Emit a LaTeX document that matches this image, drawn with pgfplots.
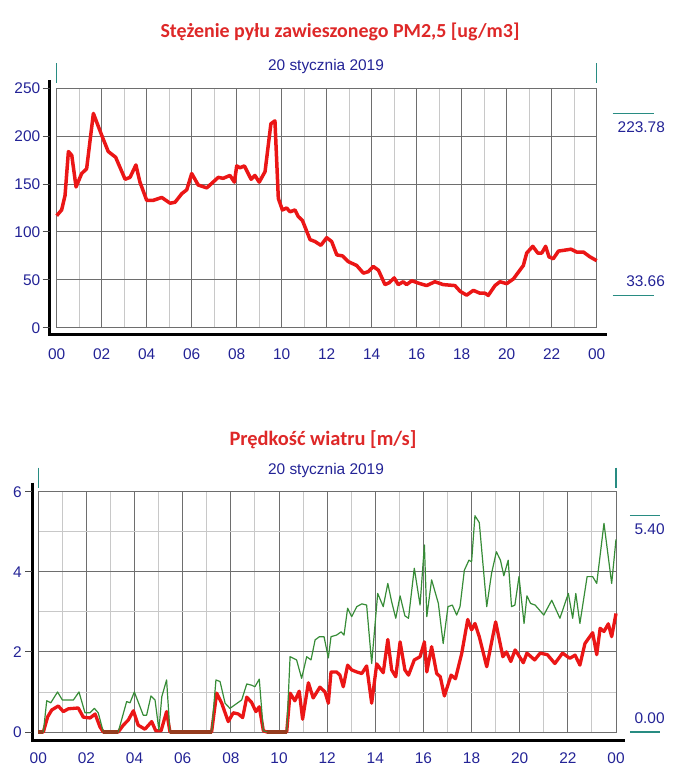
\documentclass[border=0pt]{standalone}
\usepackage{fontspec}
\setmainfont{Liberation Sans}
\newfontfamily\titlefont{Carlito}
\usepackage{pgfplots}
\pgfplotsset{compat=1.18}
\definecolor{lblue}{RGB}{35,35,150}
\definecolor{tred}{RGB}{222,40,40}
\definecolor{lred}{RGB}{235,22,22}
\definecolor{lgreen}{RGB}{55,140,55}
\definecolor{lbrown}{RGB}{150,60,30}
\definecolor{gdark}{RGB}{110,110,110}
\definecolor{glight}{RGB}{200,200,200}
\definecolor{mteal}{RGB}{40,140,130}
\pgfplotsset{
 mystyle/.style={
  scale only axis, anchor=south west,
  xmin=0,xmax=24,
  xtick={0,2,...,24}, minor xtick={1,3,...,23},
  xticklabels={00,02,04,06,08,10,12,14,16,18,20,22,00},
  grid=both,
  major grid style={draw=gdark, line width=0.9bp},
  minor grid style={draw=glight, line width=0.9bp},
  axis line style={draw=gdark, line width=0.9bp},
  major tick length=0pt, minor tick length=0pt,
  tick label style={font=\fontsize{15.5}{17}\selectfont, text=lblue},
  /pgf/number format/assume math mode=true,
  yticklabel style={xshift=-13bp},
  xticklabel style={yshift=-17bp, text height=11bp, text depth=0pt},
  clip=false,
 }
}
\begin{document}
\begin{tikzpicture}
\useasboundingbox (0,0) rectangle (680bp,-780bp);
\node[font=\titlefont\bfseries\fontsize{20}{22}\selectfont, text=tred] at (340bp,-32bp) {Stężenie pyłu zawieszonego PM2,5 [ug/m3]};
\node[font=\fontsize{15.5}{17}\selectfont, text=lblue] at (326bp,-67bp) {20 stycznia 2019};
\begin{axis}[mystyle, at={(56.7bp,-327.7bp)}, width=540bp, height=239.4bp,
  ymin=0, ymax=250, ytick={0,50,...,250}]
\addplot[lred, line width=3.5bp, line join=round] coordinates {
(0,117) (0.22,123) (0.37,138) (0.52,184) (0.67,180) (0.86,147) (1.11,161) (1.33,166)
(1.63,223.8) (2.0,201) (2.29,184) (2.62,178) (3.04,155) (3.26,157) (3.52,170) (3.7,152)
(4.0,133) (4.29,133) (4.67,136) (5.04,130) (5.26,131) (5.56,140) (5.78,144) (6.0,161)
(6.29,149) (6.67,146) (7.18,157) (7.4,156) (7.7,159) (7.9,152) (8.0,169) (8.15,167)
(8.34,169) (8.64,155) (8.81,159) (9.0,152) (9.26,163) (9.52,213) (9.7,216) (9.85,135)
(10.03,123) (10.22,125) (10.37,121) (10.59,123) (10.74,116) (10.92,112) (11.26,92) (11.48,90)
(11.74,86) (12.0,94) (12.22,90) (12.45,76) (12.7,75) (12.96,69) (13.33,65) (13.63,57)
(13.85,58.5) (14.07,64) (14.3,60) (14.59,45) (14.78,47) (15.0,52) (15.18,45) (15.4,48)
(15.55,45) (15.78,49) (16.15,46) (16.44,44) (16.81,48) (17.18,45) (17.7,44) (17.93,38)
(18.22,34) (18.52,39) (18.81,36) (19.04,36) (19.18,33.7) (19.48,44) (19.7,48) (20.0,46)
(20.3,51) (20.52,58) (20.74,65) (20.89,78) (21.16,85) (21.38,78) (21.56,78) (21.73,85)
(21.88,74) (22.07,72) (22.3,80) (22.59,81) (22.86,82) (23.11,79) (23.41,79) (23.7,74) (24.0,70)
};
\draw[line width=3bp] ([xshift=-7bp,yshift=8bp]rel axis cs:0,1) -- ([xshift=-7bp,yshift=-7bp]rel axis cs:0,0) -- ([xshift=10bp,yshift=-7bp]rel axis cs:1,0);
\pgfplotsinvokeforeach{0,50,100,150,200,250}{\draw[line width=1bp, black!70] ([xshift=-14bp]axis cs:0,#1) -- ([xshift=-7bp]axis cs:0,#1);}
\draw[mteal, line width=1.2bp] ([yshift=25bp]rel axis cs:0,1) -- ([yshift=5bp]rel axis cs:0,1);
\draw[mteal, line width=1.2bp] ([yshift=25bp]rel axis cs:1,1) -- ([yshift=5bp]rel axis cs:1,1);
\draw[mteal, line width=1.2bp] (axis cs:24.71,223.78) -- (axis cs:26.55,223.78);
\node[anchor=east, font=\fontsize{15.5}{17}\selectfont, text=lblue, inner sep=0pt] at ([yshift=-13.4bp]axis cs:27.04,223.78) {223.78};
\draw[mteal, line width=1.2bp] (axis cs:24.71,33.66) -- (axis cs:26.55,33.66);
\node[anchor=east, font=\fontsize{15.5}{17}\selectfont, text=lblue, inner sep=0pt] at ([yshift=14bp]axis cs:27.04,33.66) {33.66};
\end{axis}
\node[font=\titlefont\bfseries\fontsize{20.5}{22}\selectfont, text=tred] at (323bp,-440bp) {Prędkość wiatru [m/s]};
\node[font=\fontsize{15.5}{17}\selectfont, text=lblue] at (326bp,-471bp) {20 stycznia 2019};
\begin{axis}[mystyle, at={(38.3bp,-732bp)}, width=577.7bp, height=240.3bp,
  ymin=0, ymax=6, ytick={0,2,4,6}, minor ytick={1,3,5}]
\addplot[lred, line width=3.3bp, line join=round] coordinates {
(0,0) (0.21,0) (0.39,0.38) (0.56,0.55) (0.83,0.65) (1.04,0.51) (1.25,0.58) (1.66,0.6)
(1.87,0.37) (2.15,0.35) (2.36,0.45) (2.56,0.13) (2.7,0) (3.32,0) (3.53,0.17) (3.74,0.3)
(3.95,0.53) (4.15,0.17) (4.43,0.07) (4.71,0.26) (4.88,0.03) (5.1,0.03) (5.33,0.51) (5.47,0)
(7.2,0) (7.41,0.97) (7.62,0.72) (7.89,0.26) (8.1,0.48) (8.31,0.45) (8.49,0.36) (8.66,0.87)
(8.86,0.74) (9.04,0.51) (9.18,0.63) (9.35,0.03) (9.5,0) (10.32,0) (10.46,0.97) (10.66,0.78)
(10.84,1.02) (10.98,0.32) (11.22,1.23) (11.42,0.85) (11.7,1.12) (11.91,1.0) (12.05,0.72) (12.16,1.5)
(12.39,1.5) (12.53,1.42) (12.67,1.13) (12.85,1.67) (13.02,1.55) (13.23,1.5) (13.44,1.46) (13.64,1.65)
(13.85,0.72) (14.06,1.7) (14.33,1.48) (14.52,2.31) (14.68,1.55) (14.85,1.38) (15.03,2.25) (15.23,1.55)
(15.38,1.42) (15.62,1.8) (15.86,1.88) (16.04,2.25) (16.14,1.5) (16.34,2.13) (16.55,1.46) (16.7,1.38)
(16.87,0.9) (17.15,1.42) (17.33,1.33) (17.59,1.96) (17.84,2.81) (18.0,2.55) (18.14,2.71) (18.32,2.38)
(18.63,1.63) (19.0,2.75) (19.3,1.88) (19.45,2.0) (19.63,1.76) (19.81,2.05) (20.15,1.73) (20.3,1.97)
(20.62,1.8) (20.85,1.97) (21.15,1.93) (21.46,1.71) (21.78,1.97) (22.08,1.84) (22.3,1.92) (22.5,1.67)
(22.71,2.21) (23.03,2.48) (23.2,1.93) (23.34,2.59) (23.5,2.51) (23.68,2.7) (23.82,2.38) (24,2.96)
};
\addplot[lgreen, line width=1.2bp, line join=round] coordinates {
(0,0) (0.21,0) (0.35,0.78) (0.52,0.73) (0.8,1.0) (1.0,0.8) (1.46,0.8) (1.69,1.0)
(1.94,0.48) (2.15,0.48) (2.33,0.59) (2.49,0.48) (2.7,0) (3.32,0) (3.67,0.76) (3.81,0.73)
(3.99,1.0) (4.36,0.42) (4.5,0.42) (4.68,0.9) (4.85,0.8) (5.01,0.05) (5.13,0.88) (5.33,1.3)
(5.47,0) (7.2,0) (7.38,1.3) (7.55,1.26) (7.76,0.72) (7.96,0.59) (8.45,0.8) (8.66,1.2)
(8.86,1.17) (9.0,1.13) (9.18,1.32) (9.35,0.03) (9.5,0) (10.32,0) (10.46,1.88) (10.73,1.8)
(10.94,1.34) (11.15,1.88) (11.33,1.8) (11.5,2.3) (11.68,2.38) (11.87,2.38) (12.05,1.85) (12.16,2.38)
(12.39,2.42) (12.58,2.5) (12.7,2.42) (12.85,3.09) (13.02,2.88) (13.23,3.13) (13.44,3.2) (13.64,3.17)
(13.85,1.71) (14.1,3.46) (14.33,3.13) (14.52,3.71) (14.68,3.25) (14.85,2.84) (15.03,3.4) (15.23,2.9)
(15.38,2.84) (15.62,4.09) (15.86,3.17) (16.04,4.67) (16.14,2.88) (16.34,3.8) (16.62,3.21) (16.82,2.21)
(17.02,3.13) (17.2,3.17) (17.38,2.92) (17.52,3.13) (17.7,4.04) (17.89,4.29) (18.0,4.25) (18.14,5.4)
(18.32,5.23) (18.63,3.13) (18.83,3.96) (19.03,4.5) (19.2,4.29) (19.34,3.9) (19.52,4.29) (19.66,3.13)
(19.8,3.17) (19.97,3.88) (20.18,2.71) (20.3,3.4) (20.45,3.21) (20.64,3.17) (21.0,2.92) (21.33,3.29)
(21.67,2.84) (22.02,3.46) (22.2,2.84) (22.33,3.46) (22.5,2.71) (22.8,3.88) (23.03,3.88) (23.2,3.71)
(23.5,5.21) (23.82,3.71) (24,4.81)
};
\addplot[lbrown, line width=3.3bp] coordinates {(0,0) (0.21,0)};
\addplot[lbrown, line width=3.3bp] coordinates {(2.7,0) (3.32,0)};
\addplot[lbrown, line width=3.3bp] coordinates {(5.47,0) (7.2,0)};
\addplot[lbrown, line width=3.3bp] coordinates {(9.5,0) (10.32,0)};
\draw[line width=3bp] ([xshift=-6bp,yshift=9bp]rel axis cs:0,1) -- ([xshift=-6bp,yshift=-8bp]rel axis cs:0,0) -- ([xshift=9bp,yshift=-8bp]rel axis cs:1,0);
\pgfplotsinvokeforeach{0,2,4,6}{\draw[line width=1bp, black!70] ([xshift=-13bp]axis cs:0,#1) -- ([xshift=-6bp]axis cs:0,#1);}
\draw[mteal, line width=1.2bp] ([yshift=24bp]rel axis cs:0,1) -- ([yshift=4bp]rel axis cs:0,1);
\draw[mteal, line width=1.2bp] ([yshift=24bp]rel axis cs:1,1) -- ([yshift=4bp]rel axis cs:1,1);
\draw[mteal, line width=1.2bp] (axis cs:24.58,5.4) -- (axis cs:25.83,5.4);
\node[anchor=east, font=\fontsize{15.5}{17}\selectfont, text=lblue, inner sep=0pt] at ([yshift=-13bp]axis cs:26.03,5.4) {5.40};
\draw[mteal, line width=1.2bp] (axis cs:24.58,0) -- (axis cs:25.83,0);
\node[anchor=east, font=\fontsize{15.5}{17}\selectfont, text=lblue, inner sep=0pt] at ([yshift=14bp]axis cs:26.03,0) {0.00};
\end{axis}
\end{tikzpicture}
\end{document}
